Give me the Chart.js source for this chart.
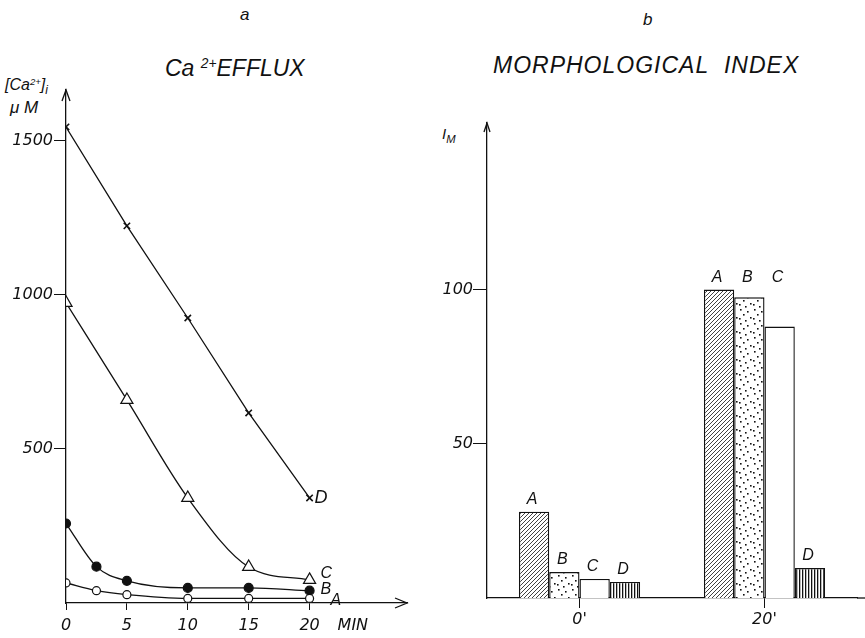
<!DOCTYPE html>
<html>
<head>
<meta charset="utf-8">
<script src="https://cdn.jsdelivr.net/npm/chart.js@4.4.0/dist/chart.umd.min.js"></script>
<style>
  body { margin: 0; background: #fff; width: 865px; height: 638px; position: relative; overflow: hidden;
         font-family: "Liberation Sans", sans-serif; font-style: italic; color: #111; }
  canvas { position: absolute; top: 0; }
  .lbl { position: absolute; white-space: nowrap; line-height: 1; }
  .sup { position: relative; font-size: 0.6em; top: -0.55em; }
  .sub { position: relative; font-size: 0.75em; top: 0.35em; }
</style>
</head>
<body>
<div class="lbl" style="left:240px;top:6px;font-size:17px">a</div>
<div class="lbl" style="left:643px;top:11px;font-size:17px">b</div>
<div class="lbl" style="left:165px;top:57px;font-size:23px">Ca <span class="sup">2+</span>EFFLUX</div>
<div class="lbl" style="left:493px;top:54px;font-size:23px;letter-spacing:1px">MORPHOLOGICAL&nbsp; INDEX</div>
<div class="lbl" style="left:5px;top:77px;font-size:16px">[Ca<span class="sup">2+</span>]<span class="sub">i</span></div>
<div class="lbl" style="left:10px;top:99px;font-size:17px">μ M</div>
<div class="lbl" style="left:442px;top:126px;font-size:15px">I<span class="sub">M</span></div>

<canvas id="efflux" width="430" height="638" style="left:0"></canvas>
<canvas id="index" width="435" height="638" style="left:430px"></canvas>

<script>
// panel a: [Ca2+]i (µM) against time (min)
const timesAB = [0, 2.5, 5, 10, 15, 20];
const timesCD = [0, 5, 10, 15, 20];
const seriesA = [65, 40, 27, 15, 15, 15];
const seriesB = [258, 118, 72, 49, 49, 40];
const seriesC = [974, 659, 341, 117, 75];
const seriesD = [1545, 1224, 925, 617, 341];
const minTicks = [0, 5, 10, 15, 20];
const caTicks = [500, 1000, 1500];

// panel b: morphological index at 0' and 20'
const periods = ["0'", "20'"];
const indexA = [28, 100];
const indexB = [8.4, 97.5];
const indexC = [6.2, 88];
const indexD = [5.2, 9.7];
const imTicks = [50, 100];

const INK = "#111";
const tickFont = { family: "DejaVu Sans", style: "italic", size: 16 };
Chart.defaults.devicePixelRatio = 1;
Chart.defaults.font.family = "Liberation Sans";
Chart.defaults.font.style = "italic";

const pts = (xs, ys) => xs.map((x, i) => ({ x, y: ys[i] }));
const plain = v => String(v);

function tile(w, h, draw) {
    const c = document.createElement("canvas");
    c.width = w; c.height = h;
    const g = c.getContext("2d");
    g.fillStyle = "#fff"; g.fillRect(0, 0, w, h);
    g.strokeStyle = INK; g.fillStyle = INK;
    draw(g);
    return g.createPattern(c, "repeat");
}

const hatch = tile(4, 4, g => {
    g.lineWidth = 0.8;
    g.beginPath();
    g.moveTo(0, 4); g.lineTo(4, 0);
    g.moveTo(-1, 1); g.lineTo(1, -1);
    g.moveTo(3, 5); g.lineTo(5, 3);
    g.stroke();
});
const dots = tile(14, 14, g => {
    [[2, 1], [9, 3], [5, 6], [12, 9], [1, 10], [7, 12]].forEach(([x, y]) => g.fillRect(x, y, 1.6, 1.6));
});
const stripes = tile(3, 2, g => { g.fillRect(0, 0, 1.3, 2); });

function arrowHead(ctx, x, y, dir, len, half) {
    ctx.beginPath();
    if (dir === "up") { ctx.moveTo(x - half, y + len); ctx.lineTo(x, y); ctx.lineTo(x + half, y + len); }
    else { ctx.moveTo(x - len, y - half); ctx.lineTo(x, y); ctx.lineTo(x - len, y + half); }
    ctx.stroke();
}

function axisOpts(extra) {
    return Object.assign({
        grid: { drawOnChartArea: false, color: INK, lineWidth: 1 },
        border: { display: true, color: INK, width: 1.3 },
    }, extra);
}

// labels at the end of each curve
const endLabels = { A: [27, 2], B: [17, -1], C: [17, -6], D: [11, 0] };

const effluxDeco = {
    id: "effluxDeco",
    afterDraw(chart) {
        const { ctx, chartArea: a, scales } = chart;
        ctx.save();
        ctx.strokeStyle = INK; ctx.lineWidth = 1.3;
        arrowHead(ctx, a.left, a.top, "up", 11, 4);
        arrowHead(ctx, a.right, a.bottom, "right", 12, 5);
        ctx.fillStyle = INK;
        ctx.font = "italic 16px 'DejaVu Sans'";
        ctx.textBaseline = "middle";
        ctx.fillText("MIN", scales.x.getPixelForValue(22.3), a.bottom + 23);
        chart.data.datasets.forEach((ds, i) => {
            const el = chart.getDatasetMeta(i).data.at(-1);
            const [dx, dy] = endLabels[ds.label];
            ctx.font = ds.label === "D" ? "italic 18px 'Liberation Sans'" : "italic 16px 'Liberation Sans'";
            ctx.fillText(ds.label, el.x + dx - 6, el.y + dy);
        });
        ctx.restore();
    }
};

new Chart(document.getElementById("efflux"), {
    type: "line",
    data: {
        datasets: [
            { label: "A", data: pts(timesAB, seriesA), pointStyle: "circle", pointRadius: 4,
              pointBackgroundColor: "#fff", cubicInterpolationMode: "monotone" },
            { label: "B", data: pts(timesAB, seriesB), pointStyle: "circle", pointRadius: 4.5,
              pointBackgroundColor: INK, cubicInterpolationMode: "monotone" },
            { label: "C", data: pts(timesCD, seriesC), pointStyle: "triangle", pointRadius: 7,
              pointBackgroundColor: "#fff", cubicInterpolationMode: "monotone" },
            { label: "D", data: pts(timesCD, seriesD), pointStyle: "crossRot", pointRadius: 4.5,
              pointBorderWidth: 1.6, tension: 0 }
        ].map(d => Object.assign({ borderColor: INK, borderWidth: 1.3, pointBorderColor: INK,
                                   pointBorderWidth: 1.2, fill: false }, d))
    },
    options: {
        responsive: false, animation: false,
        layout: { padding: { top: 90, right: 23, left: 0, bottom: 0 } },
        plugins: { legend: { display: false }, tooltip: { enabled: false } },
        scales: {
            x: axisOpts({
                type: "linear", min: 0, max: 28,
                afterBuildTicks: s => { s.ticks = minTicks.map(v => ({ value: v })); },
                afterFit: s => { s.height = 35; },
                ticks: { color: INK, font: tickFont, padding: 6, maxRotation: 0, callback: plain },
                grid: { drawOnChartArea: false, color: INK, tickLength: 7 }
            }),
            y: axisOpts({
                min: 0, max: 1665,
                afterBuildTicks: s => { s.ticks = caTicks.map(v => ({ value: v })); },
                afterFit: s => { s.width = 66; },
                ticks: { color: INK, font: tickFont, padding: 1, callback: plain },
                grid: { drawOnChartArea: false, color: INK, tickLength: 12 }
            })
        }
    },
    plugins: [effluxDeco]
});

const indexDeco = {
    id: "indexDeco",
    afterDraw(chart) {
        const { ctx, chartArea: a } = chart;
        ctx.save();
        ctx.strokeStyle = INK; ctx.lineWidth = 1.3;
        arrowHead(ctx, a.left, a.top, "up", 9, 3);
        ctx.beginPath(); ctx.moveTo(a.right, a.bottom); ctx.lineTo(chart.width, a.bottom); ctx.stroke();
        ctx.fillStyle = INK;
        ctx.font = "italic 16px 'Liberation Sans'";
        ctx.textAlign = "center"; ctx.textBaseline = "alphabetic";
        const metas = chart.data.datasets.map((d, i) => chart.getDatasetMeta(i));
        periods.forEach((p, j) => {
            const vals = chart.data.datasets.map(d => d.data[j]);
            const top = Math.min(...metas.map(m => m.data[j].y));
            const max = Math.max(...vals);
            metas.forEach((m, i) => {
                const el = m.data[j];
                const y = vals[i] > 0.8 * max ? top : el.y;
                ctx.fillText(chart.data.datasets[i].label, el.x - 2, y - 8);
            });
        });
        ctx.restore();
    }
};

new Chart(document.getElementById("index"), {
    type: "bar",
    data: {
        labels: periods,
        datasets: [
            { label: "A", data: indexA, backgroundColor: hatch },
            { label: "B", data: indexB, backgroundColor: dots },
            { label: "C", data: indexC, backgroundColor: "#fff" },
            { label: "D", data: indexD, backgroundColor: stripes }
        ].map(d => Object.assign({ borderColor: INK, borderWidth: 1.4, borderSkipped: "bottom",
                                   categoryPercentage: 0.655, barPercentage: 1 }, d))
    },
    options: {
        responsive: false, animation: false,
        layout: { padding: { top: 123, right: 8, left: 0, bottom: 0 } },
        plugins: { legend: { display: false }, tooltip: { enabled: false } },
        scales: {
            x: axisOpts({
                afterFit: s => { s.height = 40; },
                ticks: { color: INK, font: tickFont, padding: 2, maxRotation: 0 },
                grid: { drawOnChartArea: false, offset: false, color: INK, tickLength: 10 }
            }),
            y: axisOpts({
                min: 0, max: 154,
                afterBuildTicks: s => { s.ticks = imTicks.map(v => ({ value: v })); },
                afterFit: s => { s.width = 57; },
                ticks: { color: INK, font: tickFont, padding: 0, callback: plain },
                grid: { drawOnChartArea: false, color: INK, tickLength: 14 }
            })
        }
    },
    plugins: [indexDeco]
});
</script>
</body>
</html>
